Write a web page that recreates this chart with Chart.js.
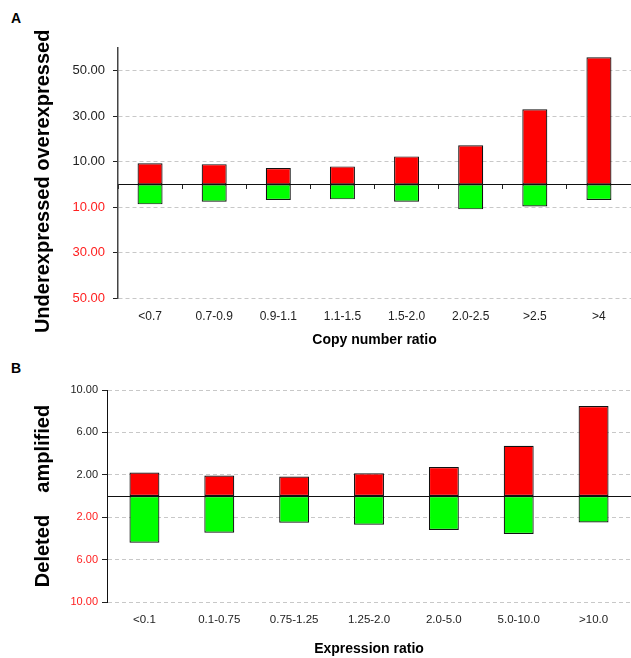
<!DOCTYPE html>
<html>
<head>
<meta charset="utf-8">
<script src="https://cdn.jsdelivr.net/npm/chart.js@4.4.0/dist/chart.umd.min.js"></script>
<style>
  body { margin: 0; background: #fff; width: 631px; height: 658px; position: relative; overflow: hidden; }
  canvas { position: absolute; left: 0; }
  .tag { position: absolute; left: 11px; font: bold 14px Arial, 'Liberation Sans', sans-serif; color: #000; }
</style>
</head>
<body>
<div class="tag" style="top:10px">A</div>
<div class="tag" style="top:360px">B</div>
<canvas id="chartA" width="631" height="352" style="top:0"></canvas>
<canvas id="chartB" width="631" height="303" style="top:355px"></canvas>
<script>
// panel A - copy number ratio
var copyLabels = ['<0.7', '0.7-0.9', '0.9-1.1', '1.1-1.5', '1.5-2.0', '2.0-2.5', '>2.5', '>4']
var overexpressed = [9.3, 8.9, 7.2, 7.9, 12.3, 17.2, 33.0, 55.9]
var underexpressed = [-8.8, -7.6, -6.9, -6.6, -7.6, -11.0, -9.7, -6.9]
var ticksA = [-50, -30, -10, 10, 30, 50]

// panel B - expression ratio
var exprLabels = ['<0.1', '0.1-0.75', '0.75-1.25', '1.25-2.0', '2.0-5.0', '5.0-10.0', '>10.0']
var amplified = [2.21, 1.93, 1.83, 2.14, 2.74, 4.73, 8.48]
var deleted = [-4.4, -3.46, -2.52, -2.71, -3.21, -3.59, -2.49]
var ticksB = [-10, -6, -2, 2, 6, 10]

var fontFamily = "Arial, 'Liberation Sans', sans-serif"

function loadPanel(chartid, opts){
    const ctx = document.getElementById(chartid).getContext('2d')
    const config = {
        type: 'bar',
        data: {
            labels: opts.labels,
            datasets: [
                { data: opts.pos, backgroundColor: '#ff0000', borderColor: '#111', borderWidth: 1.2, borderSkipped: false },
                { data: opts.neg, backgroundColor: '#00ff00', borderColor: '#111', borderWidth: 1.2, borderSkipped: false }
            ]
        },
        options: {
            responsive: false,
            animation: false,
            devicePixelRatio: 1,
            layout: { padding: { top: opts.padTop, left: 0, right: 0, bottom: 0 } },
            datasets: { bar: { categoryPercentage: 1, barPercentage: opts.barPct } },
            plugins: { legend: { display: false }, tooltip: { enabled: false } },
            scales: {
                x: {
                    stacked: true,
                    grid: { display: false, drawTicks: false },
                    border: { display: false },
                    ticks: { color: '#222', padding: opts.xPad, font: { family: fontFamily, size: opts.xFont } },
                    title: {
                        display: true,
                        text: opts.xTitle,
                        color: '#000',
                        padding: { top: 0, bottom: opts.xTitlePad },
                        font: { family: fontFamily, size: 14, weight: 'bold' }
                    },
                    afterFit: function(scale){ scale.height = opts.xHeight }
                },
                zero: {
                    type: 'category',
                    axis: 'x',
                    position: { y: 0 },
                    offset: true,
                    z: 1,
                    grid: { offset: true, drawOnChartArea: false, drawTicks: opts.zeroTicks, tickLength: 4, tickColor: '#222' },
                    border: { display: true, color: '#111', width: 1 },
                    ticks: { display: false }
                },
                y: {
                    stacked: true,
                    min: opts.min,
                    max: opts.max,
                    afterBuildTicks: function(scale){
                        scale.ticks = opts.ticks.map(function(v){ return { value: v } })
                    },
                    grid: { color: '#c8c8c8', tickColor: '#222', tickLength: 5, tickBorderDash: [] },
                    border: { color: opts.axisColor, width: opts.axisWidth, dash: [4, 3] },
                    ticks: {
                        padding: opts.yPad,
                        font: { family: fontFamily, size: opts.yFont },
                        color: function(c){ return c.tick && c.tick.value < 0 ? '#ff2020' : '#222' },
                        callback: function(v){ return Math.abs(v).toFixed(2) }
                    },
                    title: {
                        display: true,
                        text: opts.yTitle,
                        color: '#000',
                        padding: { top: opts.yTitlePad, bottom: 0 },
                        font: { family: fontFamily, size: 20, weight: 'bold' }
                    },
                    afterFit: function(scale){ scale.width = opts.yWidth }
                }
            }
        }
    }
    return new Chart(ctx, config)
}

loadPanel('chartA', {
    labels: copyLabels, pos: overexpressed, neg: underexpressed, ticks: ticksA,
    min: -50, max: 60, padTop: 48, yWidth: 118, xHeight: 54, barPct: 0.39,
    xPad: 11, xFont: 12, yFont: 13, yPad: 8, xTitlePad: 3, yTitlePad: 31,
    axisColor: '#444', axisWidth: 1.5, zeroTicks: true,
    xTitle: 'Copy number ratio', yTitle: 'Underexpressed overexpressed   '
})

loadPanel('chartB', {
    labels: exprLabels, pos: amplified, neg: deleted, ticks: ticksB,
    min: -10, max: 10, padTop: 35, yWidth: 107, xHeight: 56, barPct: 0.4,
    xPad: 11, xFont: 11.5, yFont: 11, yPad: 4, xTitlePad: 0, yTitlePad: 31,
    axisColor: '#111', axisWidth: 1, zeroTicks: false,
    xTitle: 'Expression ratio', yTitle: 'Deleted    amplified'
})
</script>
</body>
</html>
